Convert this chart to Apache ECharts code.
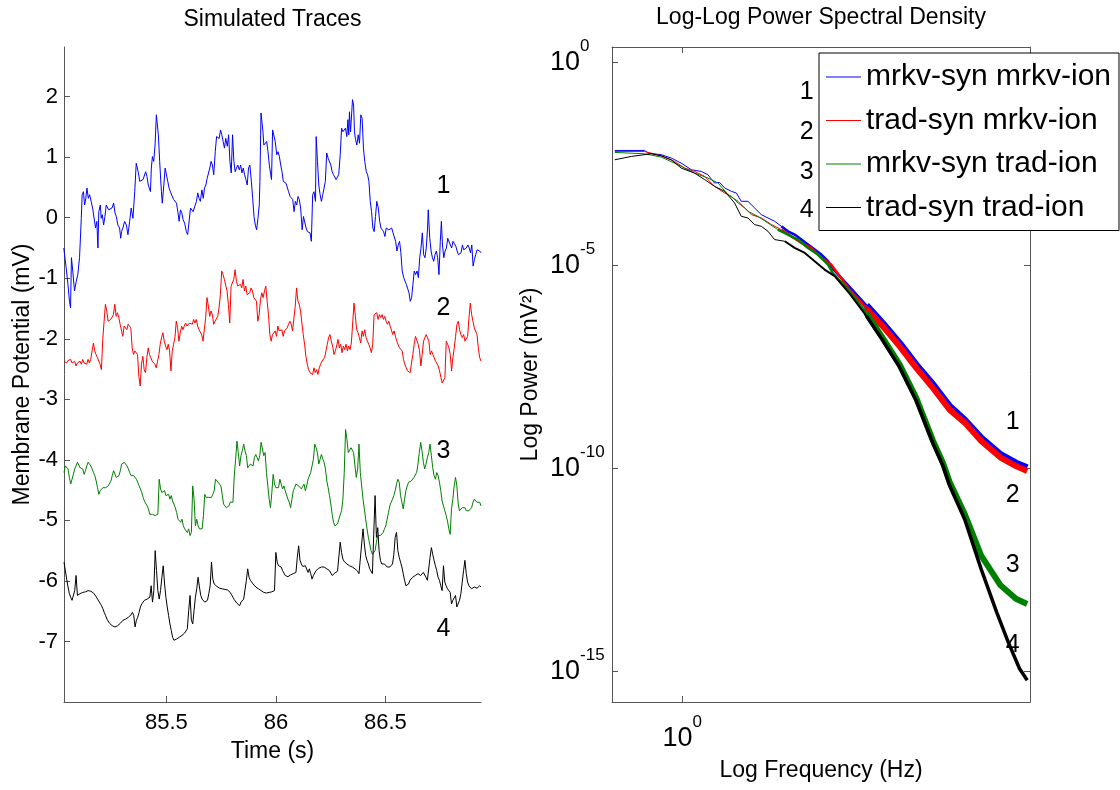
<!DOCTYPE html>
<html>
<head>
<meta charset="utf-8">
<script src="https://cdn.jsdelivr.net/npm/echarts@6/dist/echarts.min.js"></script>
<style>
  html, body { margin: 0; padding: 0; background: #fff; }
  #chart { width: 1120px; height: 790px; }
</style>
</head>
<body>
<div id="chart"></div>
<script>
// ---------------- DATA ----------------
// Left panel: simulated membrane-potential traces (mV) vs time (s)
const timeTicks = [85.5, 86, 86.5];
const voltTicks = [-7, -6, -5, -4, -3, -2, -1, 0, 1, 2];
const traceNames = ['mrkv-syn mrkv-ion', 'trad-syn mrkv-ion', 'mrkv-syn trad-ion', 'trad-syn trad-ion'];
const traceColors = ['#0000ff', '#ff0000', '#008000', '#000000'];

// trace 1 (blue): [time s, mV]
const trace1 = [
[85.031,-0.50],[85.042,-0.83],[85.050,-1.10],[85.057,-1.38],[85.062,-1.49],[85.066,-0.66],[85.072,-0.88],[85.080,-1.21],[85.088,-1.05],[85.095,-0.94],
[85.103,-0.66],[85.111,-0.01],[85.115,0.38],[85.121,0.43],[85.126,0.21],[85.130,0.27],[85.137,0.49],[85.143,0.32],[85.149,0.38],[85.156,0.27],
[85.164,0.13],[85.172,0.10],[85.176,-0.17],[85.182,-0.06],[85.187,-0.50],[85.191,0.10],[85.198,0.21],[85.202,-0.01],[85.207,0.05],[85.213,-0.12],
[85.219,0.02],[85.225,0.21],[85.230,0.24],[85.236,0.13],[85.243,0.10],[85.251,0.16],[85.259,0.24],[85.265,0.08],[85.271,0.02],[85.278,-0.12],
[85.286,-0.17],[85.291,-0.34],[85.295,-0.23],[85.301,-0.17],[85.309,-0.06],[85.317,-0.12],[85.324,-0.28],[85.332,-0.06],[85.339,0.16],[85.347,-0.01],
[85.355,0.43],[85.362,0.90],[85.367,0.93],[85.372,0.74],[85.378,0.60],[85.385,0.57],[85.393,0.63],[85.401,0.65],[85.405,0.76],[85.411,0.68],
[85.417,0.54],[85.427,0.43],[85.431,0.82],[85.436,1.01],[85.442,0.93],[85.448,1.20],[85.454,1.70],[85.459,1.73],[85.463,1.37],[85.469,0.93],
[85.477,0.43],[85.481,0.24],[85.488,0.54],[85.494,0.82],[85.500,0.85],[85.506,0.60],[85.512,0.49],[85.520,0.41],[85.527,0.38],[85.533,0.30],
[85.539,0.32],[85.546,0.24],[85.553,0.08],[85.558,-0.06],[85.564,0.13],[85.570,0.08],[85.576,-0.03],[85.583,-0.09],[85.591,-0.23],[85.597,-0.28],
[85.603,-0.28],[85.610,0.16],[85.616,0.13],[85.622,0.10],[85.630,0.13],[85.637,0.27],[85.643,0.41],[85.649,0.32],[85.655,0.27],[85.662,0.46],
[85.668,0.32],[85.674,0.49],[85.680,0.54],[85.686,0.65],[85.692,0.68],[85.698,0.82],[85.704,0.93],[85.710,0.87],[85.716,0.71],[85.723,1.09],
[85.729,1.34],[85.735,1.37],[85.741,1.31],[85.747,1.45],[85.753,1.37],[85.759,1.26],[85.765,1.15],[85.771,1.31],[85.778,1.18],[85.784,1.37],
[85.790,0.93],[85.796,0.74],[85.802,1.37],[85.808,0.93],[85.814,0.76],[85.820,0.82],[85.826,0.87],[85.833,0.79],[85.839,0.87],[85.845,0.74],
[85.851,0.82],[85.857,0.71],[85.863,0.63],[85.869,0.54],[85.875,0.82],[85.881,0.87],[85.888,0.60],[85.894,0.32],[85.900,0.02],[85.906,-0.12],
[85.912,-0.20],[85.918,-0.01],[85.924,0.21],[85.927,0.60],[85.932,1.73],[85.936,1.73],[85.941,1.42],[85.945,1.20],[85.951,1.23],[85.958,1.26],
[85.964,1.09],[85.970,0.87],[85.976,0.85],[85.980,0.63],[85.985,1.45],[85.991,1.42],[85.997,1.26],[86.004,1.04],[86.010,1.09],[86.016,1.01],
[86.022,0.87],[86.028,0.76],[86.034,0.60],[86.040,0.63],[86.046,0.57],[86.052,0.60],[86.058,0.43],[86.065,0.35],[86.071,0.32],[86.077,0.30],
[86.083,0.10],[86.089,0.27],[86.095,0.21],[86.101,0.35],[86.107,0.30],[86.113,0.16],[86.120,-0.20],[86.126,0.02],[86.132,-0.01],[86.138,-0.17],
[86.144,-0.23],[86.150,-0.20],[86.156,-0.25],[86.162,-0.39],[86.168,0.38],[86.174,0.43],[86.181,0.27],[86.184,1.34],[86.190,0.93],[86.196,0.54],
[86.202,0.38],[86.208,0.27],[86.214,0.38],[86.220,0.49],[86.226,0.60],[86.232,1.07],[86.239,0.98],[86.245,0.96],[86.251,0.87],[86.257,0.76],
[86.263,0.71],[86.269,0.74],[86.275,0.63],[86.281,0.60],[86.287,0.71],[86.294,1.04],[86.300,1.48],[86.306,1.42],[86.312,1.45],[86.318,1.48],
[86.324,1.34],[86.329,1.62],[86.333,1.37],[86.336,1.75],[86.341,1.42],[86.345,1.40],[86.350,1.95],[86.355,1.86],[86.359,1.42],[86.364,1.29],
[86.370,1.20],[86.376,1.37],[86.382,1.23],[86.388,1.70],[86.394,1.64],[86.400,1.15],[86.406,0.93],[86.413,0.76],[86.419,0.71],[86.425,0.60],
[86.431,0.27],[86.437,0.10],[86.443,-0.17],[86.449,-0.23],[86.455,0.02],[86.461,0.27],[86.468,0.16],[86.474,-0.06],[86.480,-0.17],[86.486,-0.14],
[86.492,-0.23],[86.498,-0.31],[86.504,-0.17],[86.510,-0.14],[86.516,-0.20],[86.522,-0.23],[86.529,-0.17],[86.535,-0.25],[86.541,-0.28],[86.547,-0.39],
[86.553,-0.55],[86.559,-0.45],[86.565,-0.39],[86.571,-0.58],[86.577,-0.88],[86.584,-0.99],[86.590,-1.05],[86.596,-1.10],[86.602,-1.13],[86.608,-1.24],
[86.614,-1.38],[86.620,-1.32],[86.626,-1.10],[86.632,-0.88],[86.638,-0.94],[86.645,-0.88],[86.651,-0.99],[86.657,-0.66],[86.663,-0.50],[86.669,-0.25],
[86.675,-0.61],[86.681,-0.66],[86.687,-0.50],[86.693,-0.17],[86.696,0.13],[86.703,-0.34],[86.709,-0.55],[86.715,-0.66],[86.721,-0.72],[86.727,-0.61],
[86.733,-0.55],[86.739,-0.66],[86.745,-0.94],[86.751,-0.39],[86.756,-0.06],[86.761,-0.45],[86.767,-0.66],[86.773,-0.55],[86.779,-0.50],[86.785,-0.34],
[86.791,-0.31],[86.797,-0.45],[86.803,-0.50],[86.809,-0.39],[86.816,-0.36],[86.822,-0.47],[86.828,-0.55],[86.834,-0.61],[86.840,-0.64],[86.846,-0.58],
[86.852,-0.45],[86.858,-0.53],[86.864,-0.55],[86.870,-0.50],[86.877,-0.45],[86.883,-0.50],[86.889,-0.58],[86.895,-0.45],[86.901,-0.80],[86.907,-0.69],
[86.913,-0.61],[86.919,-0.53],[86.925,-0.50],[86.931,-0.55],[86.937,-0.58]
];

// traces 2-4: samples evenly spaced between sampleStart and sampleEnd (s), values in mV
const sampleStart = 85.032;
const sampleEnd = 86.937;
const trace2Values = [
-2.37,-2.34,-2.40,-2.36,-2.38,-2.34,-2.40,-2.42,-2.37,-2.45,-2.40,-2.42,-2.37,-2.42,-2.34,-2.40,-2.37,-2.42,-2.34,-2.40,
-2.34,-2.20,-2.07,-2.20,-2.26,-2.31,-2.37,-2.42,-2.51,-2.01,-1.71,-1.43,-1.54,-1.71,-1.74,-1.68,-1.71,-1.60,-1.43,-1.63,
-1.57,-1.65,-1.76,-1.74,-1.96,-1.79,-1.76,-1.85,-1.76,-1.76,-1.82,-2.15,-2.26,-2.20,-2.18,-2.26,-2.62,-2.78,-2.42,-2.29,
-2.51,-2.56,-2.31,-2.15,-2.26,-2.23,-2.37,-2.40,-2.42,-2.48,-2.37,-2.26,-2.09,-1.98,-1.90,-2.04,-2.12,-2.18,-2.09,-2.20,
-2.53,-2.20,-2.09,-1.98,-1.71,-1.82,-2.04,-1.90,-1.79,-1.85,-1.79,-1.74,-1.79,-1.76,-1.74,-1.71,-1.76,-1.68,-1.74,-1.68,
-1.79,-1.85,-1.87,-1.93,-2.04,-2.01,-1.65,-1.32,-1.46,-1.63,-1.54,-1.60,-1.76,-1.71,-1.68,-1.63,-1.49,-1.27,-0.88,-0.94,
-1.02,-0.99,-1.21,-1.43,-1.74,-1.13,-1.10,-1.02,-0.86,-1.05,-1.13,-1.16,-1.10,-1.16,-1.02,-1.21,-1.13,-1.27,-1.30,-1.24,
-1.16,-1.21,-1.32,-1.30,-1.38,-1.71,-1.60,-1.35,-1.24,-1.32,-1.21,-1.13,-1.38,-1.60,-1.93,-2.04,-1.93,-1.96,-1.87,-1.96,
-1.79,-1.87,-1.90,-1.85,-1.96,-1.87,-1.90,-1.82,-1.76,-1.71,-1.76,-1.87,-1.85,-1.46,-1.16,-1.38,-1.43,-1.54,-1.74,-1.93,
-2.09,-2.29,-2.42,-2.51,-2.56,-2.53,-2.59,-2.48,-2.56,-2.51,-2.59,-2.48,-2.42,-2.37,-2.37,-2.31,-2.20,-2.09,-1.98,-1.93,
-2.04,-2.12,-2.26,-2.20,-2.12,-2.01,-2.15,-2.09,-2.23,-2.12,-2.18,-2.09,-2.20,-2.12,-2.18,-2.07,-2.09,-1.41,-1.63,-1.85,
-1.90,-1.98,-2.07,-1.87,-1.96,-1.85,-1.98,-2.04,-2.09,-2.15,-2.23,-2.09,-1.60,-1.63,-1.57,-1.68,-1.60,-1.65,-1.60,-1.68,
-1.63,-1.71,-1.76,-1.71,-1.79,-1.76,-1.93,-1.87,-1.96,-2.04,-2.01,-2.15,-2.12,-2.20,-2.34,-2.42,-2.48,-2.53,-2.51,-2.56,
-2.40,-2.26,-2.09,-1.96,-1.98,-2.09,-2.20,-2.45,-2.26,-2.04,-1.98,-1.93,-1.90,-2.04,-2.26,-2.20,-2.26,-2.23,-2.37,-2.40,
-2.45,-2.53,-2.64,-2.73,-2.75,-2.64,-2.04,-2.09,-2.15,-2.26,-2.53,-2.31,-2.15,-1.96,-1.76,-1.71,-1.85,-1.93,-1.98,-1.93,
-2.04,-2.01,-1.96,-1.65,-1.41,-1.60,-1.71,-1.82,-1.79,-1.93,-2.15,-2.31,-2.37
];
const trace3Values = [
-4.21,-4.10,-4.07,-4.15,-4.29,-4.40,-4.32,-4.24,-4.15,-4.10,-4.04,-4.07,-4.13,-4.10,-4.15,-4.24,-4.18,-4.10,-4.04,-4.07,
-4.10,-4.15,-4.21,-4.26,-4.35,-4.46,-4.57,-4.51,-4.48,-4.46,-4.43,-4.46,-4.46,-4.43,-4.40,-4.35,-4.26,-4.18,-4.15,-4.29,
-4.32,-4.26,-4.18,-4.07,-4.10,-4.04,-4.02,-4.10,-4.15,-4.21,-4.26,-4.26,-4.26,-4.29,-4.32,-4.37,-4.43,-4.48,-4.54,-4.62,
-4.68,-4.70,-4.76,-4.81,-4.90,-4.92,-4.90,-4.92,-4.92,-4.92,-4.90,-4.32,-4.48,-4.54,-4.57,-4.51,-4.59,-4.62,-4.57,-4.65,
-4.59,-4.68,-4.70,-4.79,-4.87,-4.98,-5.01,-5.03,-4.98,-5.09,-5.14,-5.12,-5.20,-5.14,-5.25,-5.20,-4.43,-4.65,-5.09,-4.98,
-5.09,-5.14,-5.14,-5.14,-4.92,-4.57,-4.62,-4.59,-4.62,-4.59,-4.62,-4.57,-4.51,-4.32,-4.35,-4.37,-4.40,-4.43,-4.57,-4.73,
-4.76,-4.79,-4.79,-4.76,-4.70,-4.73,-4.70,-4.26,-3.99,-3.69,-3.88,-4.10,-3.93,-3.85,-3.74,-3.85,-3.93,-4.13,-4.10,-4.07,
-4.04,-4.10,-3.96,-3.91,-3.96,-4.02,-3.93,-3.71,-3.82,-3.93,-3.88,-4.21,-4.43,-4.65,-4.79,-4.54,-4.24,-4.40,-4.46,-4.43,
-4.46,-4.32,-4.40,-4.48,-4.43,-4.51,-4.48,-4.65,-4.70,-4.79,-4.65,-4.51,-4.46,-4.40,-4.37,-4.43,-4.46,-4.48,-4.46,-4.40,
-4.51,-4.43,-4.32,-4.29,-4.21,-4.18,-3.99,-3.74,-3.80,-3.88,-4.07,-3.99,-3.91,-3.99,-4.04,-4.15,-4.35,-4.46,-4.59,-4.73,
-4.90,-5.03,-5.09,-5.12,-5.06,-4.98,-4.95,-4.84,-4.65,-4.21,-3.50,-3.66,-3.88,-3.85,-3.80,-3.77,-3.88,-4.10,-4.29,-4.15,
-3.74,-4.21,-4.43,-4.65,-4.81,-4.98,-5.14,-5.28,-5.39,-5.50,-5.56,-5.58,-5.50,-5.36,-5.25,-5.23,-5.25,-5.23,-5.20,-5.14,
-5.09,-4.98,-4.87,-4.76,-4.70,-4.65,-4.59,-4.51,-4.40,-4.32,-4.37,-4.59,-4.70,-4.81,-4.65,-4.51,-4.43,-4.37,-4.40,-4.35,
-4.32,-4.29,-4.26,-4.21,-4.07,-3.88,-3.71,-3.85,-4.04,-4.15,-4.07,-3.96,-3.88,-3.74,-3.93,-4.13,-4.26,-4.32,-4.21,-4.26,
-4.37,-4.51,-4.68,-4.76,-4.84,-4.92,-5.01,-5.14,-5.23,-4.81,-4.65,-4.43,-4.29,-4.43,-4.73,-4.84,-4.81,-4.79,-4.81,-4.79,
-4.84,-4.87,-4.84,-4.87,-4.79,-4.70,-4.65,-4.68,-4.70,-4.68,-4.70,-4.76
];
const trace4Values = [
-5.69,-5.83,-5.97,-6.10,-6.21,-6.27,-6.32,-6.35,-6.16,-5.91,-6.24,-6.24,-6.21,-6.20,-6.19,-6.18,-6.18,-6.17,-6.16,-6.16,
-6.17,-6.19,-6.20,-6.23,-6.26,-6.30,-6.32,-6.37,-6.41,-6.46,-6.52,-6.57,-6.63,-6.66,-6.70,-6.72,-6.74,-6.75,-6.76,-6.75,
-6.74,-6.71,-6.70,-6.68,-6.65,-6.64,-6.63,-6.61,-6.60,-6.58,-6.56,-6.52,-6.57,-6.76,-6.65,-6.60,-6.52,-6.43,-6.38,-6.35,
-6.32,-6.30,-6.30,-6.27,-6.27,-6.08,-6.35,-6.16,-5.50,-5.83,-6.16,-6.30,-6.16,-5.94,-5.75,-6.05,-6.27,-6.43,-6.57,-6.71,
-6.82,-6.93,-6.98,-6.97,-6.96,-6.96,-6.93,-6.91,-6.90,-6.87,-6.86,-6.85,-6.79,-6.49,-6.24,-6.65,-6.71,-6.49,-6.27,-6.13,
-5.94,-6.10,-6.24,-6.30,-6.32,-6.35,-6.38,-6.32,-6.21,-6.08,-5.69,-5.97,-6.05,-6.08,-6.09,-6.10,-6.12,-6.12,-6.13,-6.13,
-6.14,-6.14,-6.15,-6.16,-6.19,-6.23,-6.27,-6.31,-6.34,-6.37,-6.39,-6.41,-6.35,-6.32,-6.30,-6.27,-5.99,-5.80,-5.94,-5.99,
-6.02,-6.05,-6.08,-6.10,-6.12,-6.13,-6.15,-6.16,-6.17,-6.19,-6.20,-6.20,-6.20,-6.19,-6.19,-6.18,-6.17,-6.16,-5.53,-5.69,
-5.75,-5.76,-5.77,-5.83,-5.87,-5.91,-5.94,-5.93,-5.91,-5.90,-5.88,-5.88,-5.87,-5.86,-5.61,-5.42,-5.66,-5.72,-5.76,-5.77,
-5.75,-5.77,-5.86,-5.80,-5.88,-5.97,-5.91,-5.87,-5.83,-5.80,-5.79,-5.77,-5.77,-5.76,-5.77,-5.79,-5.80,-5.82,-5.83,-5.86,
-5.91,-5.88,-5.87,-5.86,-5.84,-5.83,-5.36,-5.53,-5.64,-5.68,-5.71,-5.72,-5.73,-5.75,-5.76,-5.77,-5.79,-5.80,-5.82,-5.84,
-5.88,-5.91,-5.39,-5.14,-5.39,-5.58,-5.66,-5.72,-5.80,-5.83,-5.88,-5.23,-4.59,-5.28,-5.12,-5.50,-5.66,-5.72,-5.75,-5.72,
-5.75,-5.77,-5.75,-5.77,-5.75,-5.72,-5.56,-5.28,-5.20,-5.50,-5.61,-5.69,-5.77,-5.88,-5.99,-6.08,-6.10,-6.05,-5.99,-5.97,
-5.94,-5.91,-5.91,-5.88,-5.88,-5.88,-5.91,-5.88,-5.86,-5.88,-5.94,-5.99,-6.02,-5.61,-5.45,-5.56,-5.66,-5.75,-5.83,-5.94,
-5.99,-6.08,-6.16,-5.75,-6.02,-6.08,-6.13,-6.16,-6.19,-6.38,-6.32,-6.30,-6.24,-6.43,-6.46,-6.32,-6.21,-6.02,-5.83,-5.66,
-5.88,-6.02,-6.08,-6.10,-6.13,-6.12,-6.10,-6.13,-6.12,-6.09,-6.08,-6.10
];
// trace number labels on the left panel: [time s, mV]
const traceLabelPos = [[86.765, 0.53], [86.765, -1.50], [86.765, -3.86], [86.765, -6.79]];
const traceLabelText = ['1', '2', '3', '4'];

// Right panel: PSD, log10(frequency Hz) and log10(power mV^2)
const logFreqTicks = [0];
const logPowerTicks = [0, -5, -10, -15];
const psd1LogF = [-0.192,-0.107,-0.098,-0.059,-0.031,-0.003,0.026,0.054,0.073,0.092,0.106,0.121,0.140,0.154,0.168,0.187,0.206,0.225,0.244,0.263,0.282,0.301,0.320,0.339,0.358,0.377,0.396,0.415,0.429,0.477,0.524,0.571,0.619,0.666,0.714,0.761,0.804,0.851,0.906,0.950,0.982];
const psd1LogP = [-2.163,-2.163,-2.229,-2.270,-2.352,-2.475,-2.639,-2.680,-2.762,-2.966,-2.950,-3.089,-3.171,-3.212,-3.417,-3.417,-3.581,-3.745,-3.827,-3.909,-4.032,-4.155,-4.237,-4.360,-4.483,-4.606,-4.729,-4.893,-5.08,-5.53,-5.98,-6.43,-6.92,-7.45,-7.94,-8.47,-8.81,-9.25,-9.66,-9.87,-9.98];
const psd2LogF = [-0.192,-0.107,-0.060,-0.022,0.007,0.035,0.064,0.092,0.121,0.140,0.159,0.178,0.197,0.225,0.254,0.282,0.310,0.339,0.367,0.396,0.424,0.477,0.524,0.571,0.619,0.666,0.714,0.761,0.804,0.851,0.906,0.950,0.982];
const psd2LogP = [-2.188,-2.188,-2.295,-2.434,-2.598,-2.680,-2.802,-3.048,-3.212,-3.294,-3.458,-3.581,-3.745,-3.827,-3.991,-4.114,-4.278,-4.442,-4.565,-4.811,-4.975,-5.60,-6.05,-6.50,-6.99,-7.52,-8.02,-8.55,-8.87,-9.32,-9.73,-9.94,-10.06];
const psd3LogF = [-0.192,-0.107,-0.060,-0.012,0.035,0.073,0.102,0.130,0.159,0.187,0.215,0.244,0.272,0.301,0.329,0.358,0.386,0.415,0.429,0.477,0.524,0.571,0.619,0.666,0.714,0.742,0.761,0.804,0.851,0.906,0.950,0.982];
const psd3LogP = [-2.212,-2.245,-2.327,-2.516,-2.721,-2.843,-2.966,-3.253,-3.417,-3.663,-3.786,-3.950,-4.114,-4.237,-4.360,-4.565,-4.729,-4.975,-5.19,-5.64,-6.17,-6.79,-7.44,-8.26,-9.32,-9.86,-10.33,-11.12,-12.15,-12.88,-13.21,-13.34];
const psd4LogF = [-0.192,-0.145,-0.088,-0.060,-0.031,-0.003,0.035,0.064,0.092,0.121,0.149,0.168,0.187,0.206,0.225,0.244,0.263,0.292,0.320,0.349,0.377,0.405,0.434,0.477,0.524,0.571,0.619,0.666,0.714,0.742,0.761,0.804,0.851,0.895,0.928,0.960,0.982];
const psd4LogP = [-2.393,-2.311,-2.245,-2.295,-2.393,-2.598,-2.721,-2.884,-3.048,-3.171,-3.458,-3.786,-3.827,-3.991,-4.032,-4.155,-4.360,-4.401,-4.565,-4.688,-4.893,-5.098,-5.262,-5.70,-6.24,-6.85,-7.51,-8.33,-9.39,-9.93,-10.42,-11.25,-12.48,-13.54,-14.28,-14.93,-15.22];
// curve number labels on the right panel: [log10 f, log10 P]
const psdLabelPos = [[0.354,-0.733],[0.354,-1.716],[0.354,-2.687],[0.354,-3.622],
                     [0.941,-8.859],[0.941,-10.654],[0.941,-12.375],[0.941,-14.342]];
const psdLabelText = ['1','2','3','4','1','2','3','4'];

// ---------------- STYLE ----------------
const FONT = '"Liberation Sans", Arial, Helvetica, sans-serif';
const AXIS = '#555555';
const tailBreaks = [0.30, 0.55];                 // log-frequency where the noisy tail thickens
const tailWidths = [[1, 2.5, 7], [1, 2.5, 6], [1, 2.5, 6], [1, 2, 3.5]];

function gridTimes(n) {
  const out = [];
  for (let i = 0; i < n; i++) out.push(sampleStart + (sampleEnd - sampleStart) * i / (n - 1));
  return out;
}
function pairUp(xs, ys) { return xs.map((x, i) => [x, ys[i]]); }
function splitByFreq(lf, lp) {
  const out = tailBreaks.map(() => []).concat([[]]);
  lf.forEach((x, i) => {
    let k = 0;
    while (k < tailBreaks.length && x > tailBreaks[k]) k++;
    out[k].push([x, lp[i]]);
  });
  for (let k = 1; k < out.length; k++) {
    const prev = out[k - 1];
    if (prev.length) out[k].unshift(prev[prev.length - 1]);
  }
  return out;
}

const leftData = [
  trace1,
  pairUp(gridTimes(trace2Values.length), trace2Values),
  pairUp(gridTimes(trace3Values.length), trace3Values),
  pairUp(gridTimes(trace4Values.length), trace4Values)
];
const psdCurves = [[psd1LogF, psd1LogP], [psd2LogF, psd2LogP], [psd3LogF, psd3LogP], [psd4LogF, psd4LogP]];

const series = [];
leftData.forEach((d, i) => {
  series.push({
    type: 'line', name: 'trace' + (i + 1), xAxisIndex: 0, yAxisIndex: 0,
    data: d, symbol: 'none', showSymbol: false, silent: true,
    lineStyle: { color: traceColors[i], width: 1 }, z: 2
  });
});
psdCurves.forEach((c, i) => {
  const segs = splitByFreq(c[0], c[1]);
  segs.forEach((s, k) => {
    series.push({
      type: 'line', name: traceNames[i], xAxisIndex: 1, yAxisIndex: 1,
      data: s, symbol: 'none', showSymbol: false, silent: true,
      itemStyle: { color: traceColors[i] },
      lineStyle: { color: traceColors[i], width: tailWidths[i][k] }, z: 2
    });
  });
});

const tickLabelStyle = { fontSize: 22, color: '#000', fontFamily: FONT };
const nameStyle = { fontSize: 23, color: '#000', fontFamily: FONT };
const powRich = {
  b: { fontSize: 27, lineHeight: 50, fontFamily: FONT, color: '#000' },
  s: { fontSize: 17, lineHeight: 50, fontFamily: FONT, color: '#000', verticalAlign: 'top' }
};
const powFmt = v => '{b|10}{s|' + Math.round(v) + '}';

const option = {
  animation: false,
  backgroundColor: '#ffffff',
  title: [
    { text: 'Simulated Traces', left: 272.5, top: 8, textAlign: 'center', padding: 0,
      textStyle: { fontSize: 23, fontWeight: 'normal', color: '#000', fontFamily: FONT } },
    { text: 'Log-Log Power Spectral Density', left: 821, top: 6, textAlign: 'center', padding: 0,
      textStyle: { fontSize: 23, fontWeight: 'normal', color: '#000', fontFamily: FONT } }
  ],
  legend: {
    data: traceNames, orient: 'vertical', left: 819, top: 53,
    padding: [6, 8, 5, 7], itemGap: 7.5, itemWidth: 35, itemHeight: 1.2, itemTextGap: 5,
    icon: 'rect',
    backgroundColor: '#ffffff', borderColor: '#000000', borderWidth: 1, borderRadius: 0,
    textStyle: { fontSize: 30, lineHeight: 30, padding: [6, 0, 0, 0], color: '#000', fontFamily: FONT },
    selectedMode: false, z: 10
  },
  grid: [
    { left: 64, top: 47, width: 417, height: 655 },
    { left: 612, top: 47, width: 418, height: 655 }
  ],
  xAxis: [
    { gridIndex: 0, type: 'value', min: 85.032, max: 86.937,
      axisLine: { show: true, onZero: false, lineStyle: { color: AXIS } },
      axisTick: { show: true, inside: true, length: 6, customValues: timeTicks, lineStyle: { color: AXIS } },
      axisLabel: { customValues: timeTicks, margin: 10, ...tickLabelStyle, formatter: v => String(v) },
      splitLine: { show: false },
      name: 'Time (s)', nameLocation: 'middle', nameGap: 38, nameTextStyle: nameStyle },
    { gridIndex: 1, type: 'value', min: -0.2, max: 0.99,
      axisLine: { show: true, onZero: false, lineStyle: { color: AXIS } },
      axisTick: { show: true, inside: true, length: 6, customValues: logFreqTicks, lineStyle: { color: AXIS } },
      axisLabel: { customValues: logFreqTicks, margin: 12, formatter: powFmt, rich: powRich },
      splitLine: { show: false },
      name: 'Log Frequency (Hz)', nameLocation: 'middle', nameGap: 57, nameTextStyle: nameStyle },
    { gridIndex: 1, type: 'value', min: -0.2, max: 0.99, position: 'top',
      axisLine: { show: true, onZero: false, lineStyle: { color: AXIS } },
      axisTick: { show: true, inside: true, length: 6, customValues: logFreqTicks, lineStyle: { color: AXIS } },
      axisLabel: { show: false }, splitLine: { show: false } }
  ],
  yAxis: [
    { gridIndex: 0, type: 'value', min: -8, max: 2.82,
      axisLine: { show: true, onZero: false, lineStyle: { color: AXIS } },
      axisTick: { show: true, inside: true, length: 6, customValues: voltTicks, lineStyle: { color: AXIS } },
      axisLabel: { customValues: voltTicks, margin: 6, ...tickLabelStyle, formatter: v => String(v) },
      splitLine: { show: false },
      name: 'Membrane Potential (mV)', nameLocation: 'middle', nameGap: 30, nameTextStyle: nameStyle },
    { gridIndex: 1, type: 'value', min: -15.755, max: 0.386,
      axisLine: { show: true, onZero: false, lineStyle: { color: AXIS } },
      axisTick: { show: true, inside: true, length: 6, customValues: logPowerTicks, lineStyle: { color: AXIS } },
      axisLabel: { customValues: logPowerTicks, margin: 62, align: 'left', formatter: powFmt, rich: powRich },
      splitLine: { show: false },
      name: 'Log Power (mV²)', nameLocation: 'middle', nameGap: 70, nameTextStyle: nameStyle },
    { gridIndex: 1, type: 'value', min: -15.755, max: 0.386, position: 'right',
      axisLine: { show: true, onZero: false, lineStyle: { color: AXIS } },
      axisTick: { show: true, inside: true, length: 6, customValues: logPowerTicks, lineStyle: { color: AXIS } },
      axisLabel: { show: false }, splitLine: { show: false } }
  ],
  series: series
};

const chart = echarts.init(document.getElementById('chart'), null, { renderer: 'canvas' });
chart.setOption(option);

// curve-number annotations, placed through the axes' own data->pixel conversion
function annotations(pos, txt, xi, yi) {
  return pos.map((p, i) => {
    const px = chart.convertToPixel({ xAxisIndex: xi, yAxisIndex: yi }, p);
    return {
      type: 'text', x: px[0], y: px[1], z: 5, silent: true,
      style: { text: txt[i], fill: '#000', fontSize: 25, fontFamily: FONT, align: 'center', verticalAlign: 'middle' }
    };
  });
}
chart.setOption({
  graphic: annotations(traceLabelPos, traceLabelText, 0, 0).concat(annotations(psdLabelPos, psdLabelText, 1, 1))
});
</script>
</body>
</html>
